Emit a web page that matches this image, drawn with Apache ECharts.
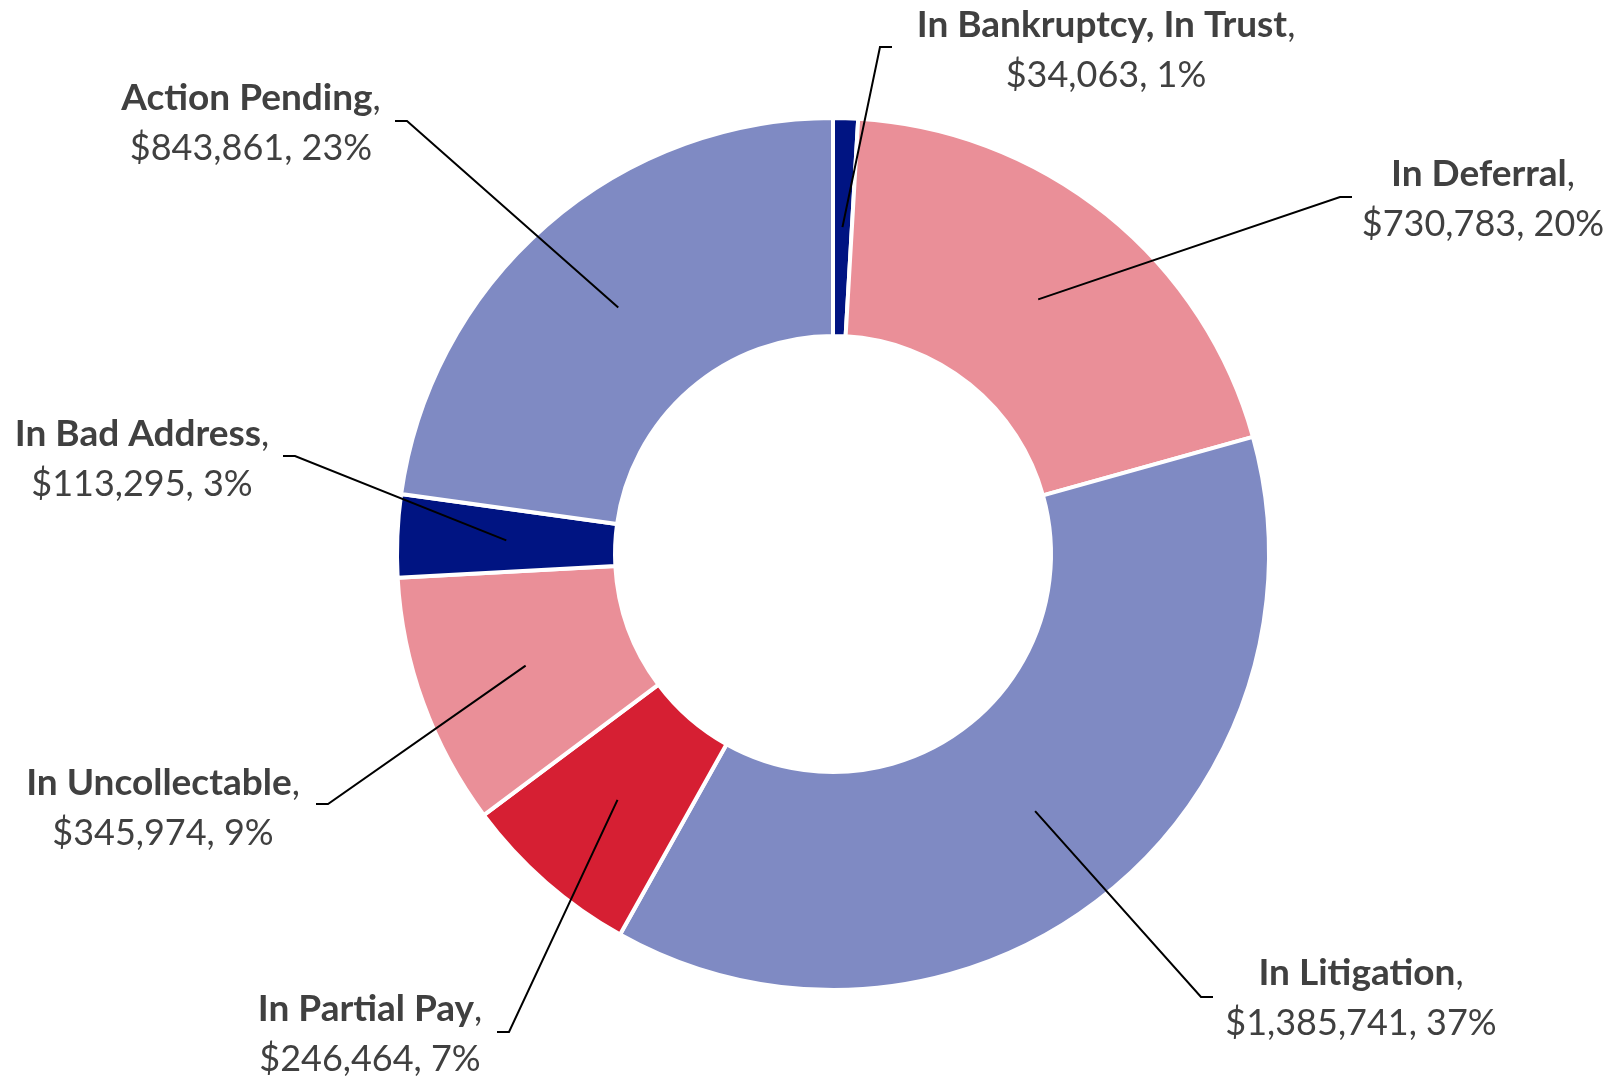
<!DOCTYPE html>
<html><head><meta charset="utf-8">
<script src="https://cdn.jsdelivr.net/npm/echarts@6/dist/echarts.min.js"></script>
<style>html,body{margin:0;padding:0;background:#fff}#c{width:1617px;height:1079px}</style>
</head><body><div id="c"></div>
<script>
// ---- data ----
const categories = ['In Bankruptcy, In Trust', 'In Deferral', 'In Litigation', 'In Partial Pay', 'In Uncollectable', 'In Bad Address', 'Action Pending'];
const values = [34063, 730783, 1385741, 246464, 345974, 113295, 843861];

// ---- styles / layout ----
const colors = ['#001482', '#EA8F98', '#7F8AC3', '#D61F33', '#EA8F98', '#001482', '#7F8AC3'];
const labelCenters = [[1106, 50], [1483, 199], [1361, 998], [370, 1034], [163, 808], [142, 459], [251, 123]];
const lineEnds = [[892, 47], [1352, 197], [1213, 997], [497, 1032], [316, 804], [283, 456], [395, 121]];
const CX = 833, CY = 554, R_IN = 218, R_OUT = 436;
const FONT = 'Lato';
const FS_B = 37, FS_R = 36;
const TXT = '#404040';

const chart = echarts.init(document.getElementById('c'), null, {renderer: 'canvas'});
const total = values.reduce((a, b) => a + b, 0);

function midDir(i, p) {
  if (p && p.labelLinePoints && p.labelLinePoints[0]) {
    const q = p.labelLinePoints[0];
    const dx = q[0] - CX, dy = q[1] - CY, l = Math.hypot(dx, dy);
    if (l > 1) return [dx / l, dy / l];
  }
  let cum = 0;
  for (let k = 0; k < i; k++) cum += values[k];
  const frac = (cum + values[i] / 2) / total;
  const a = frac * 2 * Math.PI;
  return [Math.sin(a), -Math.cos(a)];
}

const common = {
  type: 'pie',
  center: [CX, CY],
  radius: [R_IN, R_OUT],
  startAngle: 90,
  clockwise: true,
  avoidLabelOverlap: false,
  emphasis: {disabled: true},
  silent: true
};

chart.setOption({
  backgroundColor: '#fff',
  animation: false,
  series: [
    Object.assign({}, common, {
      z: 2,
      itemStyle: {borderColor: '#fff', borderWidth: 4},
      data: categories.map((c, i) => ({name: c, value: values[i], itemStyle: {color: colors[i]}})),
      label: {show: false},
      labelLine: {show: false}
    }),
    Object.assign({}, common, {
      z: 5,
      itemStyle: {color: 'rgba(0,0,0,0)', borderWidth: 0},
      data: categories.map((c, i) => ({name: c, value: values[i]})),
      label: {
        show: true,
        position: 'outside',
        align: 'center',
        formatter: p => `{n|${p.name}}{c|,}\n{v|$${p.value.toLocaleString('en-US')}, ${Math.round(p.percent)}%}`,
        rich: {
          n: {fontFamily: FONT, fontSize: FS_B, fontWeight: 'bold', color: TXT, lineHeight: 50, align: 'center'},
          c: {fontFamily: FONT, fontSize: FS_R, fontWeight: 'normal', color: TXT, lineHeight: 50, align: 'center'},
          v: {fontFamily: FONT, fontSize: FS_R, fontWeight: 'normal', color: TXT, lineHeight: 50, align: 'center'}
        }
      },
      labelLine: {show: true, showAbove: true, length: 10, length2: 10, smooth: false, lineStyle: {color: '#000', width: 2}},
      labelLayout: function (p) {
        const i = p.dataIndex;
        const d = midDir(i, p);
        const rm = (R_IN + R_OUT) / 2;
        const start = [CX + d[0] * rm, CY + d[1] * rm];
        const end = lineEnds[i];
        const side = end[0] > start[0] ? 1 : -1;
        const elbow = [end[0] - side * 12, end[1]];
        return {
          x: labelCenters[i][0], y: labelCenters[i][1],
          align: 'center', verticalAlign: 'middle',
          labelLinePoints: [start, elbow, end]
        };
      }
    })
  ]
});
</script>
</body></html>
